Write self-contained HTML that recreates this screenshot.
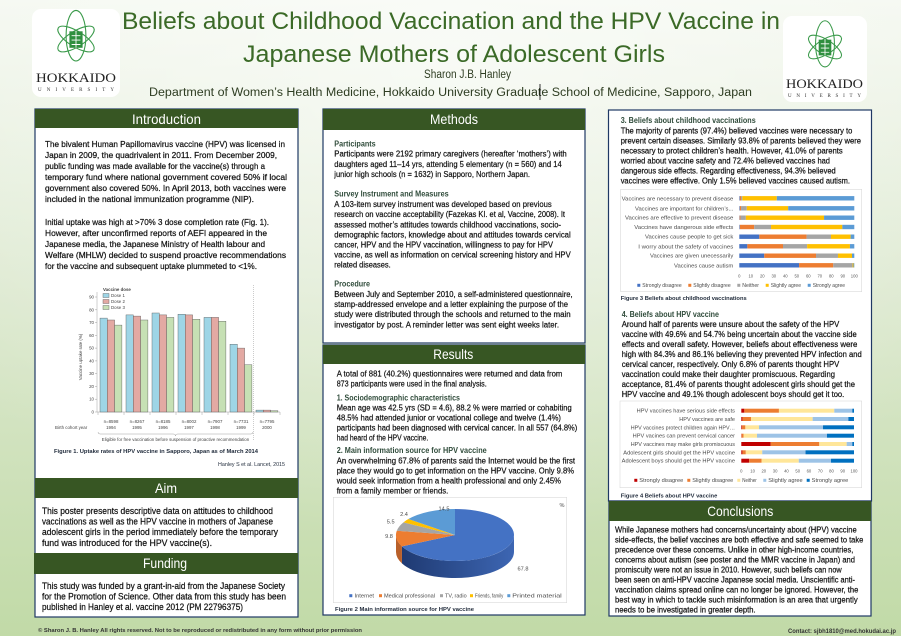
<!DOCTYPE html>
<html><head><meta charset="utf-8">
<style>
html,body{margin:0;padding:0;width:901px;height:636px;overflow:hidden;background:#e3eed8;}
svg{display:block;}
text{font-family:"Liberation Sans",Arial,sans-serif;}
.b{fill:#111;font-size:8.6px;stroke:#111;stroke-width:0.22;}
.m{fill:#111;font-size:8px;stroke:#111;stroke-width:0.2;}
.r{fill:#111;font-size:8.5px;stroke:#111;stroke-width:0.22;}
.a{fill:#111;font-size:9px;stroke:#111;stroke-width:0.22;}
.sh{fill:#2f4b3a;font-size:8px;font-weight:bold;}
.hd{fill:#fff;font-size:14px;}
.ax{fill:#595959;font-size:4.2px;}
.lb{fill:#4a4a4a;font-size:5.6px;}
.lg{fill:#4a4a4a;font-size:5.2px;}
.cap{fill:#1f2a3a;font-size:5.8px;font-weight:bold;}
.c1{fill:#444;font-size:4.4px;}
</style></head>
<body>
<svg width="901" height="636" viewBox="0 0 901 636" xmlns="http://www.w3.org/2000/svg">
<defs>
<linearGradient id="bg" x1="0" y1="0" x2="0" y2="1">
<stop offset="0" stop-color="#f4f8f0"/>
<stop offset="0.45" stop-color="#dde9d0"/>
<stop offset="1" stop-color="#c1daa7"/>
</linearGradient>
<radialGradient id="bg2" cx="0.5" cy="0.1" r="0.75">
<stop offset="0" stop-color="#ffffff" stop-opacity="0.55"/>
<stop offset="1" stop-color="#ffffff" stop-opacity="0"/>
</radialGradient>
<linearGradient id="side" x1="0" y1="0" x2="1" y2="0">
<stop offset="0" stop-color="#1f3a72"/>
<stop offset="1" stop-color="#3d66b3"/>
</linearGradient>
</defs>
<rect width="901" height="636" fill="url(#bg)"/>
<rect width="901" height="636" fill="url(#bg2)"/>

<!-- Logos -->
<rect x="32" y="9" width="88" height="88" rx="9" fill="#fff"/>
<g transform="translate(76,39) scale(1.1)" fill="none" stroke="#3a9a4a" stroke-width="1">
<ellipse cx="0" cy="-3" rx="9" ry="23"/>
<ellipse cx="0" cy="0" rx="7" ry="19" transform="rotate(58)"/>
<ellipse cx="0" cy="0" rx="7" ry="19" transform="rotate(-58)"/>
<rect x="-6" y="-7" width="12" height="15" fill="#2f8f3f" stroke="none"/>
<path d="M-4,-3H4M-4,1H4M-4,5H4M0,-7V8" stroke="#fff" stroke-width="0.8"/>
</g>
<text x="36" y="82" textLength="80" lengthAdjust="spacingAndGlyphs" style="font-family:'Liberation Serif',serif;font-size:13px;fill:#222;">HOKKAIDO</text>
<text x="38" y="91" textLength="76" lengthAdjust="spacing" style="font-family:'Liberation Serif',serif;font-size:5px;fill:#333;">UNIVERSITY</text>

<rect x="783" y="16" width="84" height="86" rx="9" fill="#fff"/>
<g transform="translate(825,47) scale(1.05)" fill="none" stroke="#3a9a4a" stroke-width="1">
<ellipse cx="0" cy="-3" rx="9" ry="22"/>
<ellipse cx="0" cy="0" rx="7" ry="18" transform="rotate(58)"/>
<ellipse cx="0" cy="0" rx="7" ry="18" transform="rotate(-58)"/>
<rect x="-6" y="-7" width="12" height="15" fill="#2f8f3f" stroke="none"/>
<path d="M-4,-3H4M-4,1H4M-4,5H4M0,-7V8" stroke="#fff" stroke-width="0.8"/>
</g>
<text x="786" y="88" textLength="77" lengthAdjust="spacingAndGlyphs" style="font-family:'Liberation Serif',serif;font-size:12.5px;fill:#222;">HOKKAIDO</text>
<text x="788" y="97" textLength="73" lengthAdjust="spacing" style="font-family:'Liberation Serif',serif;font-size:5px;fill:#333;">UNIVERSITY</text>

<!-- Title -->
<text x="122" y="29" textLength="658" lengthAdjust="spacingAndGlyphs" style="font-size:24px;fill:#3b6a27;">Beliefs about Childhood Vaccination and the HPV Vaccine in</text>
<text x="243" y="62" textLength="422" lengthAdjust="spacingAndGlyphs" style="font-size:24px;fill:#3b6a27;">Japanese Mothers of Adolescent Girls</text>
<text x="424" y="78" textLength="87" lengthAdjust="spacingAndGlyphs" style="font-size:11.5px;fill:#2e3d22;">Sharon J.B. Hanley</text>
<text x="149" y="96" textLength="603" lengthAdjust="spacingAndGlyphs" style="font-size:11.5px;fill:#2e3d22;">Department of Women’s Health Medicine, Hokkaido University Graduate School of Medicine, Sapporo, Japan</text>
<line x1="540" y1="84" x2="540" y2="100" stroke="#000" stroke-width="0.8"/>

<!-- LEFT COLUMN -->
<rect x="35" y="109" width="263" height="508" fill="#fff" stroke="#1f3864" stroke-width="1.2"/>
<rect x="35" y="109" width="263" height="19" fill="#375623"/>
<text class="hd" x="132" y="124" textLength="69" lengthAdjust="spacingAndGlyphs">Introduction</text>

<text class="b" x="45" y="147" textLength="240" lengthAdjust="spacingAndGlyphs">The bivalent Human Papillomavirus vaccine (HPV) was licensed in</text>
<text class="b" x="45" y="158" textLength="232" lengthAdjust="spacingAndGlyphs">Japan in 2009, the quadrivalent in 2011.  From December 2009,</text>
<text class="b" x="45" y="169" textLength="220" lengthAdjust="spacingAndGlyphs">public funding was made available for the vaccine(s) through a</text>
<text class="b" x="45" y="180" textLength="242" lengthAdjust="spacingAndGlyphs">temporary fund where national government covered 50% if local</text>
<text class="b" x="45" y="191" textLength="241" lengthAdjust="spacingAndGlyphs">government also covered 50%. In April 2013, both vaccines were</text>
<text class="b" x="45" y="202" textLength="209" lengthAdjust="spacingAndGlyphs">included in the national immunization programme (NIP).</text>
<text class="b" x="45" y="225" textLength="224" lengthAdjust="spacingAndGlyphs">Initial uptake was high at &gt;70% 3 dose completion rate (Fig. 1).</text>
<text class="b" x="45" y="236" textLength="222" lengthAdjust="spacingAndGlyphs">However, after unconfirmed reports of AEFI appeared in the</text>
<text class="b" x="45" y="247" textLength="220" lengthAdjust="spacingAndGlyphs">Japanese media, the Japanese Ministry of Health labour and</text>
<text class="b" x="45" y="258" textLength="241" lengthAdjust="spacingAndGlyphs">Welfare (MHLW) decided to suspend proactive recommendations</text>
<text class="b" x="45" y="269" textLength="212" lengthAdjust="spacingAndGlyphs">for the vaccine and subsequent uptake plummeted to &lt;1%.</text>

<!-- Figure 1 chart -->
<g>
<line x1="97" y1="292" x2="97" y2="412" stroke="#888" stroke-width="0.4"/>
<line x1="97" y1="412" x2="280" y2="412" stroke="#888" stroke-width="0.4"/>
<g class="c1" text-anchor="end">
<text x="94" y="413.5">0</text><text x="94" y="400.7">10</text><text x="94" y="387.9">20</text><text x="94" y="375.2">30</text><text x="94" y="362.4">40</text><text x="94" y="349.6">50</text><text x="94" y="336.8">60</text><text x="94" y="324">70</text><text x="94" y="311.3">80</text><text x="94" y="298.5">90</text>
</g>
<path d="M95,412H97M95,399.2H97M95,386.4H97M95,373.7H97M95,360.9H97M95,348.1H97M95,335.3H97M95,322.5H97M95,309.8H97M95,297H97" stroke="#888" stroke-width="0.4"/>
<path d="M98,412V415M124,412V415M150,412V415M176,412V415M202,412V415M228,412V415M254,412V415M280,412V415" stroke="#888" stroke-width="0.4"/>
<text class="c1" transform="translate(82,357) rotate(-90)" text-anchor="middle">Vaccine uptake rate (%)</text>
<line x1="253.5" y1="285" x2="253.5" y2="440" stroke="#999" stroke-width="0.5" stroke-dasharray="1,1"/>
<g stroke="#555" stroke-width="0.4">
<rect x="100" y="318.1" width="7.3" height="93.9" fill="#9ed5e6"/><rect x="107.3" y="320" width="7.3" height="92" fill="#e3a9a3"/><rect x="114.6" y="325.1" width="7.3" height="86.9" fill="#c6e0b4"/>
<rect x="126" y="314.9" width="7.3" height="97.1" fill="#9ed5e6"/><rect x="133.3" y="316.1" width="7.3" height="95.9" fill="#e3a9a3"/><rect x="140.6" y="320" width="7.3" height="92" fill="#c6e0b4"/>
<rect x="152" y="313" width="7.3" height="99" fill="#9ed5e6"/><rect x="159.3" y="314.9" width="7.3" height="97.1" fill="#e3a9a3"/><rect x="166.6" y="317.4" width="7.3" height="94.6" fill="#c6e0b4"/>
<rect x="178" y="314.2" width="7.3" height="97.8" fill="#9ed5e6"/><rect x="185.3" y="314.9" width="7.3" height="97.1" fill="#e3a9a3"/><rect x="192.6" y="319.3" width="7.3" height="92.7" fill="#c6e0b4"/>
<rect x="204" y="317.4" width="7.3" height="94.6" fill="#9ed5e6"/><rect x="211.3" y="317.4" width="7.3" height="94.6" fill="#e3a9a3"/><rect x="218.6" y="321.3" width="7.3" height="90.7" fill="#c6e0b4"/>
<rect x="230" y="344.3" width="7.3" height="67.7" fill="#9ed5e6"/><rect x="237.3" y="348.1" width="7.3" height="63.9" fill="#e3a9a3"/><rect x="244.6" y="364.7" width="7.3" height="47.3" fill="#c6e0b4"/>
<rect x="256" y="410.1" width="7.3" height="1.9" fill="#9ed5e6"/><rect x="263.3" y="410.1" width="7.3" height="1.9" fill="#e3a9a3"/><rect x="270.6" y="410.7" width="7.3" height="1.3" fill="#c6e0b4"/>
</g>
<text class="c1" x="103" y="291" style="font-weight:bold;">Vaccine dose</text>
<g stroke="#555" stroke-width="0.4">
<rect x="103" y="293.5" width="6" height="4" fill="#9ed5e6"/>
<rect x="103" y="299.5" width="6" height="4" fill="#e3a9a3"/>
<rect x="103" y="305.5" width="6" height="4" fill="#c6e0b4"/>
</g>
<text class="c1" x="111" y="297">Dose 1</text>
<text class="c1" x="111" y="303">Dose 2</text>
<text class="c1" x="111" y="309">Dose 3</text>
<g class="c1" text-anchor="middle">
<text x="111" y="423">n=8598</text><text x="111" y="429">1994</text>
<text x="137" y="423">n=8267</text><text x="137" y="429">1995</text>
<text x="163" y="423">n=8185</text><text x="163" y="429">1996</text>
<text x="189" y="423">n=8002</text><text x="189" y="429">1997</text>
<text x="215" y="423">n=7907</text><text x="215" y="429">1998</text>
<text x="241" y="423">n=7731</text><text x="241" y="429">1999</text>
<text x="267" y="423">n=7795</text><text x="267" y="429">2000</text>
<text x="175.5" y="441">Eligible for free vaccination before suspension of proactive recommendation</text>
</g>
<text class="c1" x="55" y="429">Birth cohort year</text>
<path d="M98,432 Q98,434 100,434 L173,434 Q175.5,434 175.5,436 Q175.5,434 178,434 L251,434 Q253,434 253,432" fill="none" stroke="#888" stroke-width="0.4"/>
</g>
<text class="cap" x="54" y="453" textLength="204" lengthAdjust="spacingAndGlyphs">Figure 1. Uptake rates of HPV vaccine in Sapporo, Japan as of March 2014</text>
<text class="cap" x="285" y="466" text-anchor="end" style="font-size:5px;font-weight:normal;" textLength="67" lengthAdjust="spacingAndGlyphs">Hanley S et al. Lancet, 2015</text>

<!-- Aim -->
<rect x="35" y="478" width="263" height="20" fill="#375623"/>
<text class="hd" x="155" y="493" textLength="22" lengthAdjust="spacingAndGlyphs">Aim</text>
<text class="a" x="42" y="514" textLength="231" lengthAdjust="spacingAndGlyphs">This poster presents descriptive data on attitudes to childhood</text>
<text class="a" x="42" y="524.5" textLength="231" lengthAdjust="spacingAndGlyphs">vaccinations as well as the HPV vaccine in mothers of Japanese</text>
<text class="a" x="42" y="535" textLength="236" lengthAdjust="spacingAndGlyphs">adolescent girls in the period immediately before the temporary</text>
<text class="a" x="42" y="546" textLength="170" lengthAdjust="spacingAndGlyphs">fund was introduced for the HPV vaccine(s).</text>

<!-- Funding -->
<rect x="34" y="553" width="264" height="21" fill="#375623"/>
<text class="hd" x="143" y="568" textLength="44" lengthAdjust="spacingAndGlyphs">Funding</text>
<text class="a" x="42" y="589" textLength="243" lengthAdjust="spacingAndGlyphs">This study was funded by a grant-in-aid from the Japanese Society</text>
<text class="a" x="42" y="599.5" textLength="244" lengthAdjust="spacingAndGlyphs">for the Promotion of Science. Other data from this study has been</text>
<text class="a" x="42" y="610" textLength="201" lengthAdjust="spacingAndGlyphs">published in Hanley et al. vaccine 2012 (PM 22796375)</text>

<!-- MIDDLE COLUMN: Methods -->
<rect x="323" y="109" width="262" height="234" fill="#fff" stroke="#1f3864" stroke-width="1.2"/>
<rect x="323" y="109" width="262" height="21" fill="#375623"/>
<text class="hd" x="430" y="124" textLength="48" lengthAdjust="spacingAndGlyphs">Methods</text>
<text class="sh" x="334.3" y="146.3" textLength="41.4" lengthAdjust="spacingAndGlyphs">Participants</text>
<text class="m" x="334.3" y="156.7" textLength="232.4" lengthAdjust="spacingAndGlyphs">Participants were 2192 primary caregivers (hereafter ‘mothers’) with</text>
<text class="m" x="334.3" y="167" textLength="227.4" lengthAdjust="spacingAndGlyphs">daughters aged 11–14 yrs, attending 5 elementary (n = 560) and 14</text>
<text class="m" x="334.3" y="177" textLength="195.7" lengthAdjust="spacingAndGlyphs">junior high schools (n = 1632) in Sapporo, Northern Japan.</text>
<text class="sh" x="334.3" y="196.7" textLength="114.4" lengthAdjust="spacingAndGlyphs">Survey Instrument and Measures</text>
<text class="m" x="334.3" y="207" textLength="217.4" lengthAdjust="spacingAndGlyphs">A 103-item survey instrument was developed based on previous</text>
<text class="m" x="334.3" y="217" textLength="230.7" lengthAdjust="spacingAndGlyphs">research on vaccine acceptability (Fazekas KI. et al, Vaccine, 2008). It</text>
<text class="m" x="334.3" y="227.3" textLength="226.7" lengthAdjust="spacingAndGlyphs">assessed mother’s attitudes towards childhood vaccinations, socio-</text>
<text class="m" x="334.3" y="237.3" textLength="236.4" lengthAdjust="spacingAndGlyphs">demographic factors, knowledge about and attitudes towards cervical</text>
<text class="m" x="334.3" y="247.3" textLength="218.7" lengthAdjust="spacingAndGlyphs">cancer, HPV and the HPV vaccination, willingness to pay for HPV</text>
<text class="m" x="334.3" y="257.3" textLength="236.4" lengthAdjust="spacingAndGlyphs">vaccine, as well as information on cervical screening history and HPV</text>
<text class="m" x="334.3" y="267.3" textLength="56.4" lengthAdjust="spacingAndGlyphs">related diseases.</text>
<text class="sh" x="334.3" y="286.7" textLength="35.7" lengthAdjust="spacingAndGlyphs">Procedure</text>
<text class="m" x="334.3" y="297" textLength="238.4" lengthAdjust="spacingAndGlyphs">Between July and September 2010, a self-administered questionnaire,</text>
<text class="m" x="334.3" y="307" textLength="233.7" lengthAdjust="spacingAndGlyphs">stamp-addressed envelope and a letter explaining the purpose of the</text>
<text class="m" x="334.3" y="317" textLength="236.4" lengthAdjust="spacingAndGlyphs">study were distributed through the schools and returned to the main</text>
<text class="m" x="334.3" y="327.3" textLength="224.7" lengthAdjust="spacingAndGlyphs">investigator by post. A reminder letter was sent eight weeks later.</text>

<!-- Results -->
<rect x="323" y="345" width="262" height="270" fill="#fff" stroke="#1f3864" stroke-width="1.2"/>
<rect x="323" y="345" width="262" height="19" fill="#375623"/>
<text class="hd" x="433.3" y="359" textLength="40" lengthAdjust="spacingAndGlyphs">Results</text>
<text class="m" x="336.7" y="376.3" textLength="225.6" lengthAdjust="spacingAndGlyphs">A total of 881 (40.2%) questionnaires were returned and data from</text>
<text class="m" x="336.7" y="386.3" textLength="150" lengthAdjust="spacingAndGlyphs">873 participants were used in the final analysis.</text>
<text class="sh" x="336.7" y="400.3" textLength="123.3" lengthAdjust="spacingAndGlyphs">1. Sociodemographic characteristics</text>
<text class="m" x="336.7" y="410.3" textLength="235" lengthAdjust="spacingAndGlyphs">Mean age was 42.5 yrs (SD = 4.6),  88.2 % were married or cohabiting</text>
<text class="m" x="336.7" y="420.7" textLength="224.3" lengthAdjust="spacingAndGlyphs">48.5% had attended junior or vocational college and twelve (1.4%)</text>
<text class="m" x="336.7" y="430.7" textLength="240.6" lengthAdjust="spacingAndGlyphs">participants had been diagnosed with cervical cancer. In all 557 (64.8%)</text>
<text class="m" x="336.7" y="440.7" textLength="91.6" lengthAdjust="spacingAndGlyphs">had heard of the HPV vaccine.</text>
<text class="sh" x="336.7" y="453" textLength="150" lengthAdjust="spacingAndGlyphs">2. Main information source for HPV vaccine</text>
<text class="m" x="336.7" y="463.3" textLength="238.3" lengthAdjust="spacingAndGlyphs">An overwhelming 67.8% of parents said the Internet would be the first</text>
<text class="m" x="336.7" y="473.3" textLength="237.3" lengthAdjust="spacingAndGlyphs">place they would go to get information on the HPV vaccine. Only 9.8%</text>
<text class="m" x="336.7" y="483.3" textLength="224.3" lengthAdjust="spacingAndGlyphs">would seek information from a health professional and only 2.45%</text>
<text class="m" x="336.7" y="493.3" textLength="111.6" lengthAdjust="spacingAndGlyphs">from a family member or friends.</text>

<!-- Pie chart -->
<rect x="333.3" y="497.3" width="233.4" height="105.4" fill="#fff" stroke="#d9d9d9" stroke-width="0.6"/>
<text class="lb" x="559.5" y="507">%</text>
<path d="M514,535 A59,26 0 0 1 401.93,546.36 L401.93,563.36 A59,26 0 0 0 514,552 Z" fill="url(#side)"/>
<path d="M401.93,546.36 A59,26 0 0 1 396,535 L396,552 A59,26 0 0 0 401.93,563.36 Z" fill="#b9602a"/>
<path d="M455,535 L455,509 A59,26 0 1 1 401.93,546.36 Z" fill="#4472c4"/>
<path d="M455,535 L401.93,546.36 A59,26 0 0 1 396.79,530.77 Z" fill="#ed7d31"/>
<path d="M455,535 L396.79,530.77 A59,26 0 0 1 403.48,522.33 Z" fill="#a5a5a5"/>
<path d="M455,535 L403.48,522.33 A59,26 0 0 1 408.38,519.06 Z" fill="#ffc000"/>
<path d="M455,535 L408.38,519.06 A59,26 0 0 1 455,509 Z" fill="#5b9bd5"/>
<g class="lb" text-anchor="middle">
<text x="444" y="510.5">14.5</text>
<text x="404" y="516">2.4</text>
<text x="390.7" y="523.7">5.5</text>
<text x="389" y="538">9.8</text>
<text x="523" y="570.5">67.8</text>
</g>
<rect x="349.3" y="594.2" width="3" height="3" fill="#4472c4"/>
<text class="lg" x="354.5" y="597.6" textLength="19.5" lengthAdjust="spacingAndGlyphs">Internet</text>
<rect x="379" y="594.2" width="3" height="3" fill="#ed7d31"/>
<text class="lg" x="384" y="597.6" textLength="51" lengthAdjust="spacingAndGlyphs">Medical professional</text>
<rect x="440" y="594.2" width="3" height="3" fill="#a5a5a5"/>
<text class="lg" x="445" y="597.6" textLength="21.7" lengthAdjust="spacingAndGlyphs">TV, radio</text>
<rect x="470" y="594.2" width="3" height="3" fill="#ffc000"/>
<text class="lg" x="475" y="597.6" textLength="28.3" lengthAdjust="spacingAndGlyphs">Friends, family</text>
<rect x="507.3" y="594.2" width="3" height="3" fill="#5b9bd5"/>
<text class="lg" x="512.3" y="597.6" textLength="49.4" lengthAdjust="spacingAndGlyphs">Printed material</text>
<text class="cap" x="335" y="611" textLength="139" lengthAdjust="spacingAndGlyphs">Figure 2  Main information source for HPV vaccine</text>

<!-- RIGHT COLUMN -->
<rect x="608.5" y="110" width="263" height="391" fill="#fff" stroke="#1f3864" stroke-width="1.2"/>
<text class="sh" x="620.7" y="123" textLength="135" lengthAdjust="spacingAndGlyphs">3. Beliefs about childhood vaccinations</text>
<text class="r" x="620.7" y="133.3" textLength="231.6" lengthAdjust="spacingAndGlyphs">The majority of parents (97.4%) believed vaccines were necessary to</text>
<text class="r" x="620.7" y="143.3" textLength="240.3" lengthAdjust="spacingAndGlyphs">prevent certain diseases. Similarly 93.8% of parents believed they were</text>
<text class="r" x="620.7" y="153.3" textLength="222" lengthAdjust="spacingAndGlyphs">necessary to protect children’s health. However, 41.0% of parents</text>
<text class="r" x="620.7" y="163.7" textLength="209.3" lengthAdjust="spacingAndGlyphs">worried about vaccine safety and 72.4% believed vaccines had</text>
<text class="r" x="620.7" y="173.7" textLength="215" lengthAdjust="spacingAndGlyphs">dangerous side effects. Regarding effectiveness, 94.3% believed</text>
<text class="r" x="620.7" y="183.7" textLength="229.3" lengthAdjust="spacingAndGlyphs">vaccines were effective. Only 1.5% believed vaccines caused autism.</text>

<!-- Figure 3 -->
<rect x="620.7" y="189.3" width="241" height="102.4" fill="#fff" stroke="#d9d9d9" stroke-width="0.6"/>
<g class="lb" text-anchor="end">
<text x="733.3" y="200.3" textLength="111.6" lengthAdjust="spacingAndGlyphs">Vaccines are necessary to prevent disease</text>
<text x="733.3" y="210.3" textLength="98.3" lengthAdjust="spacingAndGlyphs">Vaccines are important for children’s...</text>
<text x="733.3" y="219.7" textLength="108.3" lengthAdjust="spacingAndGlyphs">Vaccines are effective to prevent disease</text>
<text x="733.3" y="229" textLength="99" lengthAdjust="spacingAndGlyphs">Vaccines have dangerous side effects</text>
<text x="733.3" y="238.7" textLength="88.3" lengthAdjust="spacingAndGlyphs">Vaccines cause people to get sick</text>
<text x="733.3" y="248.3" textLength="95" lengthAdjust="spacingAndGlyphs">I worry about the safety of vaccines</text>
<text x="733.3" y="257.7" textLength="83.3" lengthAdjust="spacingAndGlyphs">Vaccines are given unecessarily</text>
<text x="733.3" y="267.3" textLength="59.3" lengthAdjust="spacingAndGlyphs">Vaccines cause autism</text>
</g>
<g>
<rect x="739.3" y="196.1" width="0.58" height="4.4" fill="#4472c4"/><rect x="739.88" y="196.1" width="1.15" height="4.4" fill="#ed7d31"/><rect x="741.03" y="196.1" width="1.27" height="4.4" fill="#a5a5a5"/><rect x="742.3" y="196.1" width="34.5" height="4.4" fill="#ffc000"/><rect x="776.8" y="196.1" width="77.5" height="4.4" fill="#5b9bd5"/>
<rect x="739.3" y="206.1" width="0.58" height="4.4" fill="#4472c4"/><rect x="739.88" y="206.1" width="1.15" height="4.4" fill="#ed7d31"/><rect x="741.03" y="206.1" width="5.75" height="4.4" fill="#a5a5a5"/><rect x="746.78" y="206.1" width="41.4" height="4.4" fill="#ffc000"/><rect x="788.18" y="206.1" width="66.12" height="4.4" fill="#5b9bd5"/>
<rect x="739.3" y="215.5" width="0.35" height="4.4" fill="#4472c4"/><rect x="739.65" y="215.5" width="0.8" height="4.4" fill="#ed7d31"/><rect x="740.45" y="215.5" width="5.4" height="4.4" fill="#a5a5a5"/><rect x="745.85" y="215.5" width="78.2" height="4.4" fill="#ffc000"/><rect x="824.05" y="215.5" width="30.25" height="4.4" fill="#5b9bd5"/>
<rect x="739.3" y="224.8" width="0.58" height="4.4" fill="#4472c4"/><rect x="739.88" y="224.8" width="14.37" height="4.4" fill="#ed7d31"/><rect x="754.25" y="224.8" width="16.79" height="4.4" fill="#a5a5a5"/><rect x="771.04" y="224.8" width="71.3" height="4.4" fill="#ffc000"/><rect x="842.34" y="224.8" width="11.96" height="4.4" fill="#5b9bd5"/>
<rect x="739.3" y="234.5" width="20.01" height="4.4" fill="#4472c4"/><rect x="759.31" y="234.5" width="47.27" height="4.4" fill="#ed7d31"/><rect x="806.58" y="234.5" width="24.38" height="4.4" fill="#a5a5a5"/><rect x="830.96" y="234.5" width="19.67" height="4.4" fill="#ffc000"/><rect x="850.63" y="234.5" width="3.68" height="4.4" fill="#5b9bd5"/>
<rect x="739.3" y="244.1" width="8.05" height="4.4" fill="#4472c4"/><rect x="747.35" y="244.1" width="35.65" height="4.4" fill="#ed7d31"/><rect x="783" y="244.1" width="24.15" height="4.4" fill="#a5a5a5"/><rect x="807.15" y="244.1" width="42.78" height="4.4" fill="#ffc000"/><rect x="849.93" y="244.1" width="4.37" height="4.4" fill="#5b9bd5"/>
<rect x="739.3" y="253.5" width="24.96" height="4.4" fill="#4472c4"/><rect x="764.26" y="253.5" width="51.75" height="4.4" fill="#ed7d31"/><rect x="816.01" y="253.5" width="21.97" height="4.4" fill="#a5a5a5"/><rect x="837.98" y="253.5" width="14.03" height="4.4" fill="#ffc000"/><rect x="852.01" y="253.5" width="2.3" height="4.4" fill="#5b9bd5"/>
<rect x="739.3" y="263.1" width="59.8" height="4.4" fill="#4472c4"/><rect x="799.1" y="263.1" width="34.16" height="4.4" fill="#ed7d31"/><rect x="833.26" y="263.1" width="19.32" height="4.4" fill="#a5a5a5"/><rect x="852.58" y="263.1" width="0.92" height="4.4" fill="#ffc000"/><rect x="853.5" y="263.1" width="0.8" height="4.4" fill="#5b9bd5"/>
</g>
<g class="ax" text-anchor="middle">
<text x="739.3" y="277.5">0</text><text x="750.8" y="277.5">10</text><text x="762.3" y="277.5">20</text><text x="773.8" y="277.5">30</text><text x="785.3" y="277.5">40</text><text x="796.8" y="277.5">50</text><text x="808.3" y="277.5">60</text><text x="819.8" y="277.5">70</text><text x="831.3" y="277.5">80</text><text x="842.8" y="277.5">90</text><text x="854.3" y="277.5">100</text>
</g>
<rect x="637.3" y="283.8" width="3" height="3" fill="#4472c4"/>
<text class="lg" x="642.3" y="287.2" textLength="39.4" lengthAdjust="spacingAndGlyphs">Strongly disagree</text>
<rect x="688.3" y="283.8" width="3" height="3" fill="#ed7d31"/>
<text class="lg" x="693.3" y="287.2" textLength="37.4" lengthAdjust="spacingAndGlyphs">Slightly disagree</text>
<rect x="737.3" y="283.8" width="3" height="3" fill="#a5a5a5"/>
<text class="lg" x="742.3" y="287.2" textLength="16.7" lengthAdjust="spacingAndGlyphs">Neither</text>
<rect x="765.7" y="283.8" width="3" height="3" fill="#ffc000"/>
<text class="lg" x="770.7" y="287.2" textLength="30.3" lengthAdjust="spacingAndGlyphs">Slightly agree</text>
<rect x="807.7" y="283.8" width="3" height="3" fill="#5b9bd5"/>
<text class="lg" x="812.7" y="287.2" textLength="32.3" lengthAdjust="spacingAndGlyphs">Strongly agree</text>
<text class="cap" x="620.7" y="300" textLength="126" lengthAdjust="spacingAndGlyphs">Figure 3  Beliefs about childhood vaccinations</text>

<!-- Section 4 -->
<text class="sh" x="621.7" y="317" textLength="97.3" lengthAdjust="spacingAndGlyphs">4. Beliefs about HPV vaccine</text>
<text class="r" x="621.7" y="327" textLength="217.6" lengthAdjust="spacingAndGlyphs">Around half of parents were unsure about the safety of the HPV</text>
<text class="r" x="621.7" y="337" textLength="235" lengthAdjust="spacingAndGlyphs">vaccine with 49.6% and 54.7% being uncertain about the vaccine side</text>
<text class="r" x="621.7" y="347" textLength="235.6" lengthAdjust="spacingAndGlyphs">effects and overall safety. However, beliefs about effectiveness were</text>
<text class="r" x="621.7" y="357" textLength="240" lengthAdjust="spacingAndGlyphs">high with 84.3% and 86.1% believing they prevented HPV infection and</text>
<text class="r" x="621.7" y="367" textLength="217.6" lengthAdjust="spacingAndGlyphs">cervical cancer, respectively. Only 6.8% of parents thought HPV</text>
<text class="r" x="621.7" y="377" textLength="213.3" lengthAdjust="spacingAndGlyphs">vaccination could make their daughter promiscuous. Regarding</text>
<text class="r" x="621.7" y="387" textLength="233.3" lengthAdjust="spacingAndGlyphs">acceptance, 81.4% of parents thought adolescent girls should get the</text>
<text class="r" x="621.7" y="397" textLength="222.6" lengthAdjust="spacingAndGlyphs">HPV vaccine and 49.1%  though adolescent boys should get it too.</text>

<!-- Figure 4 -->
<rect x="620" y="401" width="241.7" height="86.7" fill="#fff" stroke="#d9d9d9" stroke-width="0.6"/>
<g class="lb" text-anchor="end">
<text x="735" y="412.7" textLength="98.3" lengthAdjust="spacingAndGlyphs">HPV vaccines have serious side effects</text>
<text x="735" y="421" textLength="55.7" lengthAdjust="spacingAndGlyphs">HPV vaccines are safe</text>
<text x="735" y="429.3" textLength="104.3" lengthAdjust="spacingAndGlyphs">HPV vaccines protect children again HPV…</text>
<text x="735" y="437.7" textLength="102.3" lengthAdjust="spacingAndGlyphs">HPV vacines can prevent cervical cancer</text>
<text x="735" y="446" textLength="104.3" lengthAdjust="spacingAndGlyphs">HPV vaccines may make girls promiscuous</text>
<text x="735" y="454.3" textLength="111.7" lengthAdjust="spacingAndGlyphs">Adolescent girls should get the HPV vaccine</text>
<text x="735" y="462.7" textLength="113.3" lengthAdjust="spacingAndGlyphs">Adolescent boys should get the HPV vaccine</text>
</g>
<g>
<rect x="741.3" y="408.7" width="3.04" height="4" fill="#c00000"/><rect x="744.34" y="408.7" width="34.6" height="4" fill="#ed7d31"/><rect x="778.94" y="408.7" width="55.34" height="4" fill="#ffe699"/><rect x="834.28" y="408.7" width="18.03" height="4" fill="#9dc3e6"/><rect x="852.31" y="408.7" width="1.69" height="4" fill="#0070c0"/>
<rect x="741.3" y="417" width="1.13" height="4" fill="#c00000"/><rect x="742.43" y="417" width="8.56" height="4" fill="#ed7d31"/><rect x="750.99" y="417" width="61.65" height="4" fill="#ffe699"/><rect x="812.64" y="417" width="35.73" height="4" fill="#9dc3e6"/><rect x="848.37" y="417" width="5.63" height="4" fill="#0070c0"/>
<rect x="741.3" y="425.3" width="0.68" height="4" fill="#c00000"/><rect x="741.98" y="425.3" width="3.38" height="4" fill="#ed7d31"/><rect x="745.36" y="425.3" width="13.63" height="4" fill="#ffe699"/><rect x="758.99" y="425.3" width="64.02" height="4" fill="#9dc3e6"/><rect x="823.01" y="425.3" width="30.99" height="4" fill="#0070c0"/>
<rect x="741.3" y="433.7" width="0.34" height="4" fill="#c00000"/><rect x="741.64" y="433.7" width="1.91" height="4" fill="#ed7d31"/><rect x="743.55" y="433.7" width="13.42" height="4" fill="#ffe699"/><rect x="756.97" y="433.7" width="69.98" height="4" fill="#9dc3e6"/><rect x="826.95" y="433.7" width="27.05" height="4" fill="#0070c0"/>
<rect x="741.3" y="442" width="29.3" height="4" fill="#c00000"/><rect x="770.6" y="442" width="48.69" height="4" fill="#ed7d31"/><rect x="819.29" y="442" width="27.38" height="4" fill="#ffe699"/><rect x="846.67" y="442" width="5.64" height="4" fill="#9dc3e6"/><rect x="852.31" y="442" width="1.69" height="4" fill="#0070c0"/>
<rect x="741.3" y="450.3" width="1.13" height="4" fill="#c00000"/><rect x="742.43" y="450.3" width="3.38" height="4" fill="#ed7d31"/><rect x="745.81" y="450.3" width="16.45" height="4" fill="#ffe699"/><rect x="762.26" y="450.3" width="43.28" height="4" fill="#9dc3e6"/><rect x="805.54" y="450.3" width="48.46" height="4" fill="#0070c0"/>
<rect x="741.3" y="458.7" width="7.89" height="4" fill="#c00000"/><rect x="749.19" y="458.7" width="12.4" height="4" fill="#ed7d31"/><rect x="761.59" y="458.7" width="37.19" height="4" fill="#ffe699"/><rect x="798.78" y="458.7" width="32.23" height="4" fill="#9dc3e6"/><rect x="831.01" y="458.7" width="22.99" height="4" fill="#0070c0"/>
</g>
<g class="ax" text-anchor="middle">
<text x="741.3" y="472.5">0</text><text x="752.6" y="472.5">10</text><text x="763.8" y="472.5">20</text><text x="775.1" y="472.5">30</text><text x="786.4" y="472.5">40</text><text x="797.7" y="472.5">50</text><text x="808.9" y="472.5">60</text><text x="820.2" y="472.5">70</text><text x="831.5" y="472.5">80</text><text x="842.7" y="472.5">90</text><text x="854" y="472.5">100</text>
</g>
<rect x="634.3" y="478.8" width="3" height="3" fill="#c00000"/>
<text class="lg" x="639.3" y="482.2" textLength="44" lengthAdjust="spacingAndGlyphs">Strongly disagree</text>
<rect x="687.3" y="478.8" width="3" height="3" fill="#ed7d31"/>
<text class="lg" x="692.3" y="482.2" textLength="41" lengthAdjust="spacingAndGlyphs">Slightly disagree</text>
<rect x="737.3" y="478.8" width="3" height="3" fill="#ffe699"/>
<text class="lg" x="742.3" y="482.2" textLength="14.4" lengthAdjust="spacingAndGlyphs">Neither</text>
<rect x="763.3" y="478.8" width="3" height="3" fill="#9dc3e6"/>
<text class="lg" x="768.3" y="482.2" textLength="34.4" lengthAdjust="spacingAndGlyphs">Slightly agree</text>
<rect x="806.7" y="478.8" width="3" height="3" fill="#0070c0"/>
<text class="lg" x="811.7" y="482.2" textLength="36.6" lengthAdjust="spacingAndGlyphs">Strongly agree</text>
<text class="cap" x="620.7" y="497.5" textLength="96.6" lengthAdjust="spacingAndGlyphs">Figure 4  Beliefs about HPV vaccine</text>

<!-- Conclusions -->
<rect x="609" y="501" width="262" height="115" fill="#fff" stroke="#1f3864" stroke-width="1.2"/>
<rect x="609" y="501" width="262" height="20" fill="#375623"/>
<text class="hd" x="707.3" y="516" textLength="66" lengthAdjust="spacingAndGlyphs">Conclusions</text>
<text class="b" x="615" y="532.3" textLength="241.7" lengthAdjust="spacingAndGlyphs">While Japanese mothers had concerns/uncertainty about (HPV) vaccine</text>
<text class="b" x="615" y="542.3" textLength="248.3" lengthAdjust="spacingAndGlyphs">side-effects, the belief vaccines are both effective and safe seemed to take</text>
<text class="b" x="615" y="552.3" textLength="238.3" lengthAdjust="spacingAndGlyphs">precedence over these concerns. Unlike in other high-income countries,</text>
<text class="b" x="615" y="562.3" textLength="240" lengthAdjust="spacingAndGlyphs">concerns about autism (see poster and the MMR vaccine in Japan) and</text>
<text class="b" x="615" y="572.3" textLength="226.7" lengthAdjust="spacingAndGlyphs">promiscuity were not an issue in 2010. However, such beliefs can now</text>
<text class="b" x="615" y="582.3" textLength="240" lengthAdjust="spacingAndGlyphs">been seen on anti-HPV vaccine Japanese social media. Unscientific anti-</text>
<text class="b" x="615" y="592.3" textLength="243.3" lengthAdjust="spacingAndGlyphs">vaccination claims spread online can no longer be ignored. However, the</text>
<text class="b" x="615" y="602.3" textLength="242.7" lengthAdjust="spacingAndGlyphs">best way in which to tackle such misinformation is an area that urgently</text>
<text class="b" x="615" y="612.3" textLength="140.7" lengthAdjust="spacingAndGlyphs">needs to be investigated in greater depth.</text>

<!-- Footer -->
<text x="38" y="632" textLength="324" lengthAdjust="spacingAndGlyphs" style="font-size:5.6px;font-weight:bold;fill:#333;">© Sharon J. B. Hanley All rights reserved. Not to be reproduced or redistributed in any form without prior permission</text>
<text x="788" y="633" textLength="108" lengthAdjust="spacingAndGlyphs" style="font-size:6px;font-weight:bold;fill:#333;">Contact: sjbh1810@med.hokudai.ac.jp</text>
</svg>
</body></html>
